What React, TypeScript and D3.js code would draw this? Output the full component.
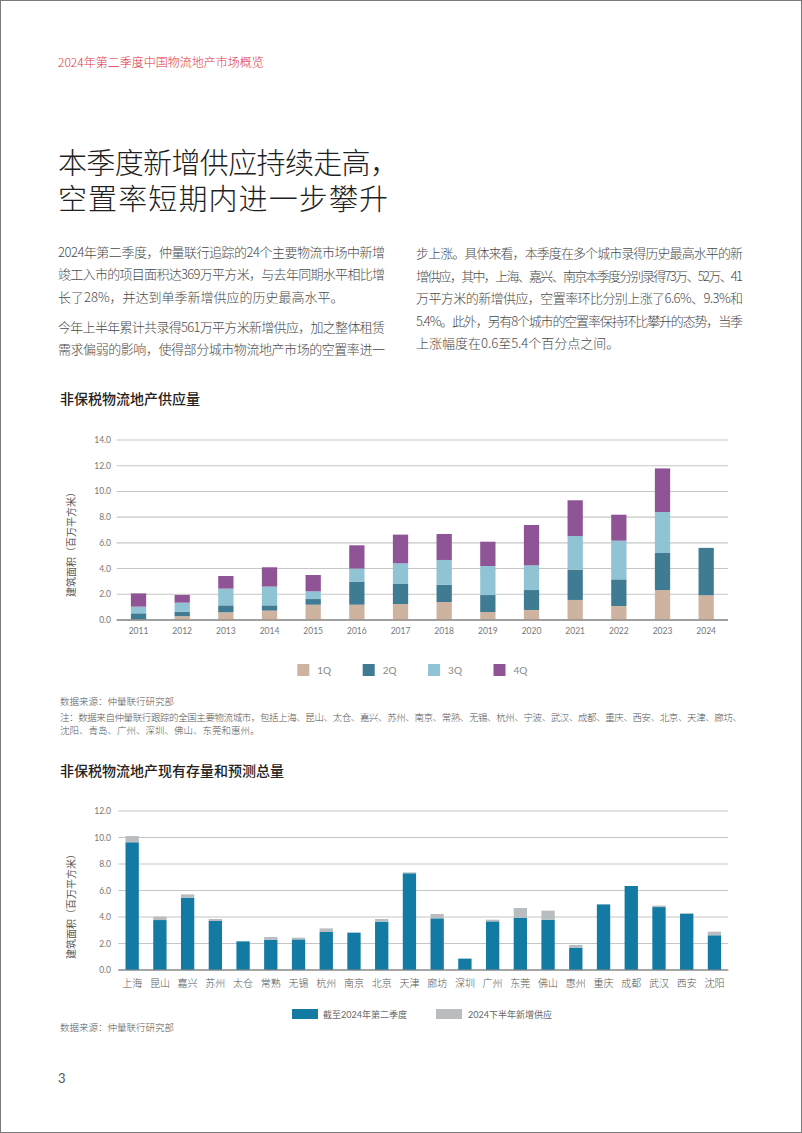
import React from 'react';
import * as d3 from 'd3';

// ---------- data ----------
const years = ['2011','2012','2013','2014','2015','2016','2017','2018','2019','2020','2021','2022','2023','2024'];
const q1 = [0.05,0.30,0.60,0.73,1.19,1.19,1.24,1.40,0.62,0.78,1.56,1.09,2.33,1.92];
const q2 = [0.47,0.35,0.54,0.41,0.44,1.77,1.56,1.35,1.32,1.55,2.36,2.07,2.88,3.69];
const q3 = [0.52,0.70,1.30,1.46,0.60,1.04,1.61,1.92,2.26,1.92,2.61,3.01,3.19,0];
const q4 = [1.03,0.60,0.98,1.50,1.27,1.81,2.23,2.02,1.89,3.14,2.78,2.02,3.39,0];
const quarterNames = ['1Q','2Q','3Q','4Q'];
const supplyTicks = [0,2,4,6,8,10,12,14];

const cities = ['上海','昆山','嘉兴','苏州','太仓','常熟','无锡','杭州','南京','北京','天津','廊坊','深圳','广州','东莞','佛山','惠州','重庆','成都','武汉','西安','沈阳'];
const stock = [9.64,3.77,5.46,3.70,2.16,2.29,2.31,2.87,2.82,3.65,7.30,3.90,0.86,3.67,3.95,3.80,1.69,4.95,6.34,4.75,4.25,2.62];
const newH2 = [0.47,0.26,0.25,0.15,0,0.20,0.13,0.27,0,0.20,0.07,0.33,0,0.13,0.73,0.68,0.20,0,0,0.11,0.05,0.27];
const stockTicks = [0,2,4,6,8,10,12];
const stockLegend = ['截至2024年第二季度','2024下半年新增供应'];

const leftLines = [
  '2024年第二季度，仲量联行追踪的24个主要物流市场中新增',
  '竣工入市的项目面积达369万平方米，与去年同期水平相比增',
  '长了28%，并达到单季新增供应的历史最高水平。',
];
const leftLines2 = [
  '今年上半年累计共录得561万平方米新增供应，加之整体租赁',
  '需求偏弱的影响，使得部分城市物流地产市场的空置率进一',
];
const rightLines = [
  '步上涨。具体来看，本季度在多个城市录得历史最高水平的新',
  '增供应，其中，上海、嘉兴、南京本季度分别录得73万、52万、41',
  '万平方米的新增供应，空置率环比分别上涨了6.6%、9.3%和',
  '5.4%。此外，另有8个城市的空置率保持环比攀升的态势，当季',
  '上涨幅度在0.6至5.4个百分点之间。',
];

const FONT = "Lato, 'Noto Sans CJK SC', sans-serif";
const CJK = "'Noto Sans CJK SC', sans-serif";
const qColors = ['#cdb3a0', '#3f7b92', '#90c3d3', '#8f5495'];
const blue = '#137aa3';
const grey = '#b9bdc0';

export default function App() {
  // chart 1 scales
  const x1 = d3.scaleBand<string>().domain(years).range([116.7, 728]).paddingInner(0.65).paddingOuter(0.325);
  const y1 = d3.scaleLinear().domain([0, 14]).range([620, 440]);
  const rows = years.map((yr, i) => ({ year: yr, '1Q': q1[i], '2Q': q2[i], '3Q': q3[i], '4Q': q4[i] }));
  const stacked = d3.stack<any>().keys(quarterNames)(rows);

  // chart 2 scales
  const x2 = d3.scaleBand<string>().domain(cities).range([118.3, 728.3]).paddingInner(0.52).paddingOuter(0.26);
  const y2 = d3.scaleLinear().domain([0, 12]).range([970, 811]);

  const bodyStyle = { fontFamily: CJK, fontSize: 13, fill: '#4a4a4a', fontWeight: 300 } as any;
  const lh = 22.5;

  return (
    <div style={{ position: 'absolute', left: 0, top: 0 }}>
      <svg width={802} height={1133} xmlns="http://www.w3.org/2000/svg" style={{ display: 'block' }}>
        <rect x={0} y={0} width={802} height={1133} fill="#fff" />
        <rect x={0.5} y={0.5} width={801} height={1132} fill="none" stroke="#7a7a7a" strokeWidth={1} />

        {/* header */}
        <text x={58} y={67} fontFamily={CJK} fontSize={12} fill="#e2323e" fontWeight={300}>2024年第二季度中国物流地产市场概览</text>

        {/* title */}
        <text x={58} y={173.5} fontFamily={CJK} fontSize={29} fill="#1f1f1f" fontWeight={300} textLength={341} lengthAdjust="spacing">本季度新增供应持续走高，</text>
        <text x={58} y={210} fontFamily={CJK} fontSize={29} fill="#1f1f1f" fontWeight={300} textLength={330} lengthAdjust="spacing">空置率短期内进一步攀升</text>

        {/* body text */}
        {leftLines.map((t, i) => (
          <text key={'l' + i} x={58} y={256.5 + i * lh} {...bodyStyle}
            {...(i < leftLines.length - 1 ? { textLength: 327, lengthAdjust: 'spacing' } : {})}>{t}</text>
        ))}
        {leftLines2.map((t, i) => (
          <text key={'l2' + i} x={58} y={331.5 + i * lh} {...bodyStyle} textLength={327} lengthAdjust="spacing">{t}</text>
        ))}
        {rightLines.map((t, i) => (
          <text key={'r' + i} x={416} y={258 + i * lh} {...bodyStyle}
            {...(i < rightLines.length - 1 ? { textLength: 327, lengthAdjust: 'spacing' } : {})}>{t}</text>
        ))}

        {/* chart 1 */}
        <text x={60} y={404} fontFamily={CJK} fontSize={14} fill="#222" fontWeight={500}>非保税物流地产供应量</text>
        {supplyTicks.map(t => (
          <g key={'g1' + t}>
            <line x1={116.7} x2={728} y1={y1(t)} y2={y1(t)} stroke={t === 0 ? '#8a8a8a' : '#c6c6c6'} strokeWidth={t === 0 ? 1.2 : 1.1} />
            <text x={111} y={y1(t) + 3} textAnchor="end" fontFamily={FONT} fontSize={8.5} fill="#777">{t.toFixed(1)}</text>
          </g>
        ))}
        {stacked.map((layer, k) => (
          <g key={'s' + k} fill={qColors[k]}>
            {layer.map((d: any, i: number) => (
              d[1] - d[0] > 0 ? (
                <rect key={i} x={x1(years[i])} width={x1.bandwidth()} y={y1(d[1])} height={y1(d[0]) - y1(d[1])} />
              ) : null
            ))}
          </g>
        ))}
        <line x1={116.7} x2={728} y1={620} y2={620} stroke="#7d7d7d" strokeWidth={1.2} />
        {years.map(yr => (
          <text key={'xl' + yr} x={(x1(yr) as number) + x1.bandwidth() / 2} y={633.5} textAnchor="middle" fontFamily={FONT} fontSize={8.5} fill="#777">{yr}</text>
        ))}
        <text transform="translate(74.5,542) rotate(-90)" textAnchor="middle" fontFamily={CJK} fontSize={10} fill="#555">建筑面积（百万平方米）</text>

        {/* legend 1 */}
        {quarterNames.map((q, i) => (
          <g key={'lg' + q} transform={`translate(${297.3 + i * 65.4},664)`}>
            <rect x={0} y={0} width={12} height={12} fill={qColors[i]} />
            <text x={20} y={10} fontFamily={FONT} fontSize={10} fill="#888">{q}</text>
          </g>
        ))}

        {/* notes */}
        <text x={60} y={705} fontFamily={CJK} fontSize={9.5} fill="#555" fontWeight={300}>数据来源：仲量联行研究部</text>
        <text x={60} y={721} fontFamily={CJK} fontSize={9.5} fill="#555" fontWeight={300} textLength={682} lengthAdjust="spacing">注：数据来自仲量联行跟踪的全国主要物流城市，包括上海、昆山、太仓、嘉兴、苏州、南京、常熟、无锡、杭州、宁波、武汉、成都、重庆、西安、北京、天津、廊坊、</text>
        <text x={60} y={734} fontFamily={CJK} fontSize={9.5} fill="#555" fontWeight={300}>沈阳、青岛、广州、深圳、佛山、东莞和惠州。</text>

        {/* chart 2 */}
        <text x={60} y={776} fontFamily={CJK} fontSize={14} fill="#222" fontWeight={500}>非保税物流地产现有存量和预测总量</text>
        {stockTicks.map(t => (
          <g key={'g2' + t}>
            <line x1={118.3} x2={728.3} y1={y2(t)} y2={y2(t)} stroke={t === 0 ? '#8a8a8a' : '#c6c6c6'} strokeWidth={1.1} />
            <text x={111} y={y2(t) + 3} textAnchor="end" fontFamily={FONT} fontSize={8.5} fill="#777">{t.toFixed(1)}</text>
          </g>
        ))}
        {cities.map((c, i) => (
          <g key={'c' + c}>
            <rect x={x2(c)} width={x2.bandwidth()} y={y2(stock[i])} height={y2(0) - y2(stock[i])} fill={blue} />
            {newH2[i] > 0 && (
              <rect x={x2(c)} width={x2.bandwidth()} y={y2(stock[i] + newH2[i])} height={y2(stock[i]) - y2(stock[i] + newH2[i])} fill={grey} />
            )}
            <text x={(x2(c) as number) + x2.bandwidth() / 2} y={986.5} textAnchor="middle" fontFamily={CJK} fontSize={10} fill="#555" fontWeight={300}>{c}</text>
          </g>
        ))}
        <line x1={118.3} x2={728.3} y1={970} y2={970} stroke="#8a8a8a" strokeWidth={1.2} />
        <text transform="translate(74.5,904) rotate(-90)" textAnchor="middle" fontFamily={CJK} fontSize={10} fill="#555">建筑面积（百万平方米）</text>

        {/* legend 2 */}
        <rect x={292} y={1009} width={26} height={10} fill={blue} />
        <text x={323} y={1017.5} fontFamily={FONT} fontSize={9} fill="#666">{stockLegend[0]}</text>
        <rect x={436} y={1009} width={26} height={10} fill={grey} />
        <text x={468} y={1017.5} fontFamily={FONT} fontSize={9} fill="#666">{stockLegend[1]}</text>

        <text x={60} y={1031} fontFamily={CJK} fontSize={9.5} fill="#555" fontWeight={300}>数据来源：仲量联行研究部</text>

        <text x={58} y={1083} fontFamily={FONT} fontSize={13} fill="#555">3</text>
      </svg>
    </div>
  );
}
